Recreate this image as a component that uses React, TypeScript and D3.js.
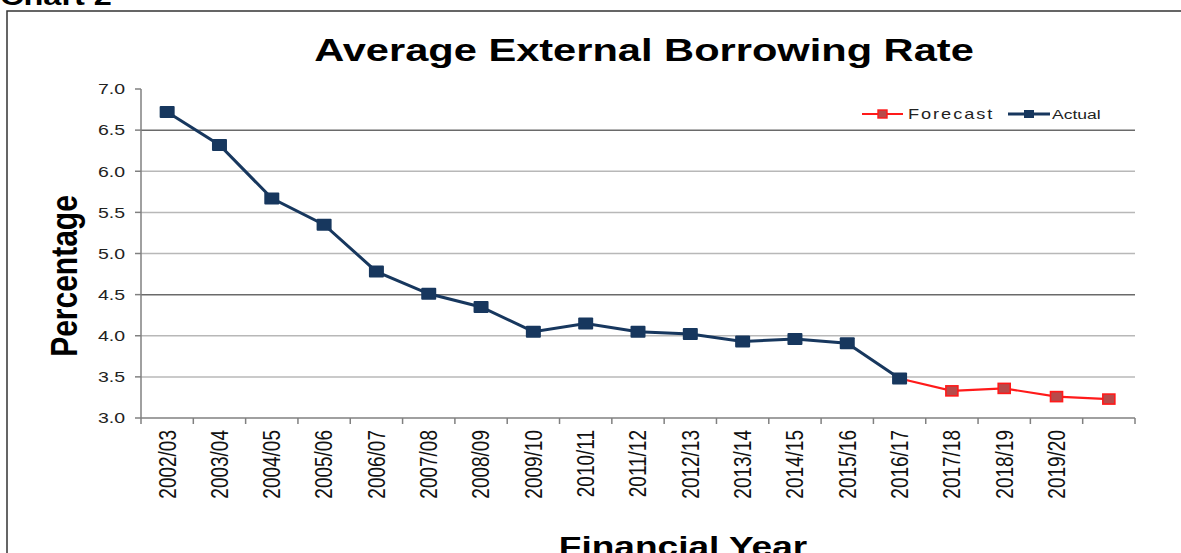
import React from "react";
import * as d3 from "d3";

const categories = [
  "2002/03", "2003/04", "2004/05", "2005/06", "2006/07", "2007/08", "2008/09",
  "2009/10", "2010/11", "2011/12", "2012/13", "2013/14", "2014/15", "2015/16",
  "2016/17", "2017/18", "2018/19", "2019/20", "",
];
const actualValues: (number | null)[] = [
  6.72, 6.32, 5.67, 5.35, 4.78, 4.51, 4.35, 4.05, 4.15, 4.05, 4.02, 3.93, 3.96, 3.91, 3.48,
  null, null, null, null,
];
const forecastValues: (number | null)[] = [
  null, null, null, null, null, null, null, null, null, null, null, null, null, null, 3.48,
  3.33, 3.36, 3.26, 3.23,
];
const yTicks = [3.0, 3.5, 4.0, 4.5, 5.0, 5.5, 6.0, 6.5, 7.0];
const darkGridTicks = [6.5, 4.5];

const FONT = "'Liberation Sans', Arial, Helvetica, sans-serif";
const NAVY = "#17375E";
const RED = "#FF1A1A";
const SX = 1.3;

export default function App() {
  const W = 1181, H = 553;
  const x = d3.scaleBand<string>().domain(categories).range([141, 1135]).padding(0);
  const y = d3.scaleLinear().domain([3, 7]).range([418, 89]);
  const cx = (i: number) => (x(categories[i]) ?? 0) + x.bandwidth() / 2;

  const line = d3
    .line<number | null>()
    .defined((d) => d !== null)
    .x((_, i) => cx(i))
    .y((d) => y(d as number));

  const bounds = categories.map((c) => x(c) as number).concat([x.range()[1]]);

  return (
    <svg width={W} height={H} style={{ position: "absolute", left: 0, top: 0, background: "#fff" }}>
      <rect x={0} y={0} width={W} height={H} fill="#fff" />
      {/* Chart 2 heading (cut off in the original) */}
      <text
        transform={`translate(0,5) scale(${SX},1)`}
        fontFamily={FONT}
        fontWeight="bold"
        fontSize={25}
        fill="#000"
      >
        Chart 2
      </text>
      {/* frame */}
      <rect x={7} y={11} width={1200} height={600} fill="none" stroke="#333" strokeWidth={1.5} />

      {/* title */}
      <text
        transform={`translate(644,61) scale(${SX},1)`}
        textAnchor="middle"
        fontFamily={FONT}
        fontWeight="bold"
        fontSize={32}
        fill="#000"
      >
        Average External Borrowing Rate
      </text>

      {/* gridlines */}
      {yTicks
        .filter((t) => t !== 7.0 && t !== 3.0)
        .map((t) => (
          <line
            key={"g" + t}
            x1={141}
            x2={1135}
            y1={y(t)}
            y2={y(t)}
            stroke={darkGridTicks.includes(t) ? "#6a6a6a" : "#b8b8b8"}
            strokeWidth={1.5}
          />
        ))}

      {/* axes */}
      <line x1={141} x2={141} y1={89} y2={418} stroke="#808080" strokeWidth={1.5} />
      <line x1={141} x2={1135} y1={418} y2={418} stroke="#808080" strokeWidth={1.5} />
      {yTicks.map((t) => (
        <line key={"yt" + t} x1={135} x2={141} y1={y(t)} y2={y(t)} stroke="#808080" strokeWidth={1.5} />
      ))}
      {bounds.map((b, i) => (
        <line key={"xt" + i} x1={b} x2={b} y1={418} y2={424} stroke="#808080" strokeWidth={1.5} />
      ))}

      {/* y tick labels */}
      {yTicks.map((t) => (
        <text
          key={"yl" + t}
          transform={`translate(125,${y(t)}) scale(${SX},1)`}
          dy="0.35em"
          textAnchor="end"
          fontFamily={FONT}
          fontSize={15}
          fill="#222"
        >
          {d3.format(".1f")(t)}
        </text>
      ))}

      {/* x tick labels */}
      {categories.map((c, i) =>
        c ? (
          <text
            key={"xl" + i}
            transform={`translate(${cx(i)},430) scale(1.22,1) rotate(-90)`}
            dy="0.36em"
            textAnchor="end"
            fontFamily={FONT}
            fontSize={19}
            fill="#111"
          >
            {c}
          </text>
        ) : null
      )}

      {/* axis titles */}
      <text
        transform={`translate(64,276) scale(1.2,1) rotate(-90)`}
        dy="0.35em"
        textAnchor="middle"
        fontFamily={FONT}
        fontWeight="bold"
        fontSize={30}
        fill="#000"
      >
        Percentage
      </text>
      <text
        transform={`translate(683,556) scale(${SX},1)`}
        textAnchor="middle"
        fontFamily={FONT}
        fontWeight="bold"
        fontSize={28.5}
        fill="#000"
      >
        Financial Year
      </text>

      {/* forecast series */}
      <path d={line(forecastValues) ?? ""} fill="none" stroke={RED} strokeWidth={2.2} />
      {forecastValues.map((v, i) =>
        v !== null && actualValues[i] === null ? (
          <rect
            key={"fm" + i}
            x={cx(i) - 6}
            y={y(v) - 5}
            width={12}
            height={10}
            fill="#B84A4A"
            stroke={RED}
            strokeWidth={1.6}
          />
        ) : null
      )}

      {/* actual series */}
      <path d={line(actualValues) ?? ""} fill="none" stroke={NAVY} strokeWidth={3} />
      {actualValues.map((v, i) =>
        v !== null ? (
          <rect key={"am" + i} x={cx(i) - 7.5} y={y(v) - 6} width={15} height={12} fill={NAVY} rx={1} />
        ) : null
      )}

      {/* legend */}
      <line x1={862} x2={903} y1={114} y2={114} stroke={RED} strokeWidth={2.2} />
      <rect x={878} y={110} width={9} height={8} fill="#B84A4A" stroke={RED} strokeWidth={1.4} />
      <text
        transform={`translate(908,119) scale(${SX},1)`}
        fontFamily={FONT}
        fontSize={14}
        letterSpacing={1.5}
        fill="#222"
      >
        Forecast
      </text>
      <line x1={1008} x2={1050} y1={114} y2={114} stroke={NAVY} strokeWidth={3} />
      <rect x={1024} y={110} width={10} height={8} fill={NAVY} />
      <text
        transform={`translate(1052,119) scale(${SX},1)`}
        fontFamily={FONT}
        fontSize={13.5}
        fill="#222"
      >
        Actual
      </text>
    </svg>
  );
}
